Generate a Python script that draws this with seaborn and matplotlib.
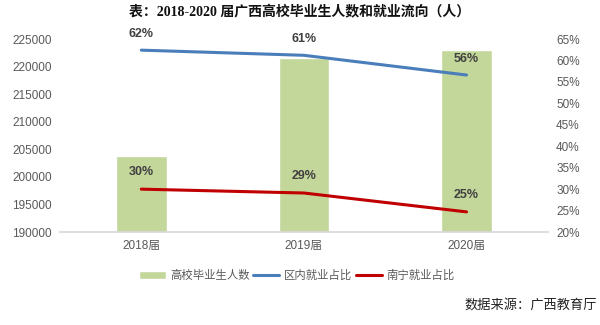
import matplotlib
matplotlib.use("Agg")
import matplotlib.pyplot as plt
import seaborn as sns
import pandas as pd
from matplotlib.ticker import FuncFormatter, MultipleLocator

sns.set_theme(style="white")
plt.rcParams['font.family'] = ['Liberation Sans', 'Noto Sans CJK SC', 'DejaVu Sans']

categories = ["2018届", "2019届", "2020届"]
graduates = [203800, 221500, 223000]
local_share = [62.4, 61.2, 56.6]
nanning_share = [30.0, 29.1, 24.7]
local_labels = ["62%", "61%", "56%"]
nanning_labels = ["30%", "29%", "25%"]

df = pd.DataFrame({"cat": categories, "grad": graduates,
                   "local": local_share, "nn": nanning_share})

fig = plt.figure(figsize=(6, 3.25), dpi=100)
ax = fig.add_axes([0.1, 0.286, 0.813, 0.594])
gray = "#595959"
green = "#c4d79b"
blue = "#4a7ebb"
red = "#c00000"

sns.barplot(data=df, x="cat", y="grad", color=green, width=0.31, ax=ax,
            saturation=1, label="高校毕业生人数")
if ax.get_legend() is not None:
    ax.get_legend().remove()
ax.set_ylim(190000, 225000)
ax.yaxis.set_major_locator(MultipleLocator(5000))
ax.set_xlim(-0.5, 2.5)
ax.set_xlabel("")
ax.set_ylabel("")

ax2 = ax.twinx()
sns.lineplot(x=[0, 1, 2], y=df["local"], color=blue, lw=2.2, ax=ax2,
             label="区内就业占比", legend=False)
sns.lineplot(x=[0, 1, 2], y=df["nn"], color=red, lw=2.2, ax=ax2,
             label="南宁就业占比", legend=False)
ax2.set_ylim(20, 65)
ax2.yaxis.set_major_locator(MultipleLocator(5))
ax2.yaxis.set_major_formatter(FuncFormatter(lambda v, p: f"{v:.0f}%"))
ax2.set_ylabel("")
ax2.set_xlim(-0.5, 2.5)

for i in range(3):
    ax2.text(i, local_share[i] + 3.7, local_labels[i], ha="center", va="center",
             fontsize=9, fontweight="bold", color="#404040")
    ax2.text(i, nanning_share[i] + 3.9, nanning_labels[i], ha="center", va="center",
             fontsize=9, fontweight="bold", color="#404040")

for a in (ax, ax2):
    for s in a.spines.values():
        s.set_visible(False)
    a.tick_params(axis="both", labelsize=8.5, colors=gray, length=0)
ax.spines["bottom"].set_visible(True)
ax.spines["bottom"].set_color("#d9d9d9")
ax.tick_params(axis="x", pad=6)
ax.tick_params(axis="y", pad=6)
ax2.tick_params(axis="y", pad=6)

h1, l1 = ax.get_legend_handles_labels()
h2, l2 = ax2.get_legend_handles_labels()
fig.legend(h1 + h2, l1 + l2, loc="center", bbox_to_anchor=(0.495, 0.154), ncol=3,
           frameon=False, fontsize=8.2, handlelength=2.3, columnspacing=0.3,
           handletextpad=0.4, labelcolor=gray)

fig.text(0.5, 0.966, "表：2018-2020 届广西高校毕业生人数和就业流向（人）",
         ha="center", va="center", fontsize=10, fontweight="bold", color="#111111",
         family=["Liberation Serif", "Noto Sans CJK SC"])
fig.text(0.995, 0.062, "数据来源：广西教育厅", ha="right", va="center",
         fontsize=9.5, color="#222222", family=["Noto Sans CJK SC"])

fig.savefig("out.png", dpi=100)
